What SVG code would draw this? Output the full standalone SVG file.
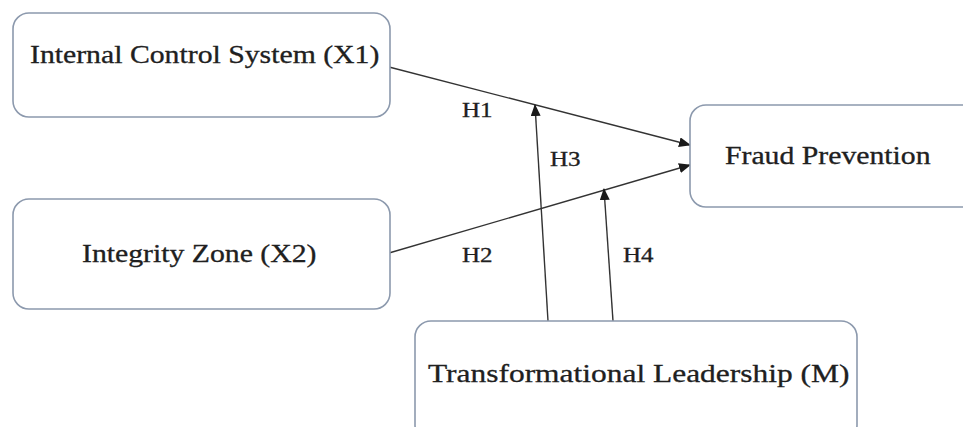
<svg xmlns="http://www.w3.org/2000/svg" width="963" height="427" viewBox="0 0 963 427">
  <defs>
    <marker id="arrow" markerWidth="12" markerHeight="10" refX="11" refY="5" orient="auto" markerUnits="userSpaceOnUse">
      <path d="M0,0 L12,5 L0,10 Z" fill="#1a1a1a"/>
    </marker>
  </defs>
  <style>
    .box { fill: #ffffff; stroke: #8c99ad; stroke-width: 1.6; }
    .label { font-family: "Liberation Serif", serif; font-size: 25px; fill: #202020; stroke: #202020; stroke-width: 0.3; }
    .hyp { font-family: "Liberation Serif", serif; font-size: 21px; fill: #202020; stroke: #202020; stroke-width: 0.3; }
    .edge { stroke: #333333; stroke-width: 1.4; fill: none; marker-end: url(#arrow); }
  </style>
  <rect width="963" height="427" fill="#ffffff"/>

  <g id="connectors">
    <line class="edge" x1="389" y1="67" x2="690" y2="145"/>
    <line class="edge" x1="389" y1="253" x2="690" y2="165"/>
    <line class="edge" x1="548" y1="321" x2="535" y2="105"/>
    <line class="edge" x1="613" y1="321" x2="604" y2="189"/>
    <!-- labels are drawn in a horizontally widened serif -->
    <g transform="scale(1.19,1)">
      <text class="hyp" x="388.2" y="117">H1</text>
      <text class="hyp" x="388.2" y="262">H2</text>
      <text class="hyp" x="462.2" y="166">H3</text>
      <text class="hyp" x="523.5" y="262">H4</text>
    </g>
  </g>

  <g id="internal-control">
    <rect class="box" x="13" y="13" width="377" height="104" rx="16"/>
    <text class="label" transform="scale(1.19,1)" x="25.2" y="63">Internal Control System (X1)</text>
  </g>

  <g id="integrity-zone">
    <rect class="box" x="13" y="199" width="377" height="110" rx="16"/>
    <text class="label" transform="scale(1.19,1)" x="68.9" y="262">Integrity Zone (X2)</text>
  </g>

  <g id="fraud-prevention">
    <rect class="box" x="690" y="105" width="290" height="102" rx="16"/>
    <text class="label" transform="scale(1.19,1)" x="609.2" y="164">Fraud Prevention</text>
  </g>

  <g id="transformational-leadership">
    <rect class="box" x="415" y="321" width="442" height="120" rx="16"/>
    <text class="label" transform="scale(1.21,1)" x="353.7" y="382" style="font-size:26px">Transformational Leadership (M)</text>
  </g>
</svg>
